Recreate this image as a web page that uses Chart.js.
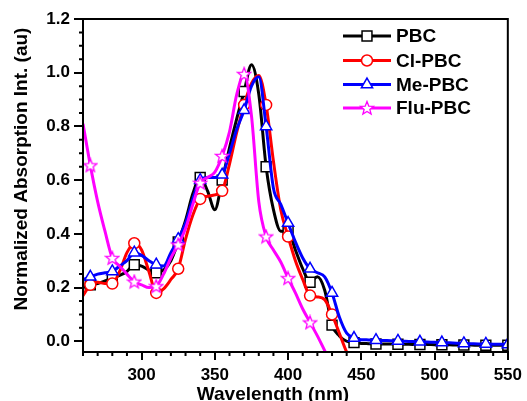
<!DOCTYPE html>
<html>
<head>
<meta charset="utf-8">
<script src="https://cdn.jsdelivr.net/npm/chart.js@4.4.0/dist/chart.umd.min.js"></script>
<style>
  html, body { margin: 0; padding: 0; background: #fff; }
</style>
</head>
<body>
<canvas id="absChart" width="527" height="401"></canvas>
<script>
// wavelengths (nm)
const wavelengths = [260, 265, 270, 275, 280, 285, 290, 295, 300, 305, 310, 315, 320, 325, 330, 335, 340, 345, 350, 355,
  360, 365, 370, 375, 380, 385, 390, 395, 400, 405, 410, 415, 420, 425, 430, 435, 440, 445,
  450, 455, 460, 465, 470, 475, 480, 485, 490, 495, 500, 505, 510, 515, 520, 525, 530, 535, 540, 545, 550];

// where the symbols sit
const markerWavelengths = [265, 280, 295, 310, 325, 340, 355, 370, 385, 400, 415, 430, 445, 460, 475, 490, 505, 520, 535, 550];

const pbc = [0.20, 0.21, 0.215, 0.225, 0.235, 0.245, 0.26, 0.285, 0.28, 0.265, 0.255, 0.265, 0.30, 0.37, 0.45, 0.55, 0.61, 0.56, 0.49, 0.60,
  0.72, 0.83, 0.93, 1.03, 0.92, 0.65, 0.49, 0.41, 0.41, 0.34, 0.27, 0.22, 0.24, 0.19, 0.06, 0.02, 0.0, -0.005,
  -0.008, -0.009, -0.01, -0.01, -0.01, -0.011, -0.011, -0.012, -0.012, -0.012, -0.013, -0.013, -0.013, -0.014, -0.014, -0.014, -0.015, -0.015, -0.015, -0.015, -0.015];

const clPbc = [0.17, 0.21, 0.22, 0.215, 0.215, 0.26, 0.33, 0.365, 0.34, 0.26, 0.18, 0.195, 0.23, 0.27, 0.38, 0.47, 0.53, 0.54, 0.545, 0.56,
  0.66, 0.78, 0.88, 0.96, 0.99, 0.88, 0.67, 0.49, 0.39, 0.30, 0.23, 0.17, 0.165, 0.155, 0.10, 0.03, -0.04, -0.09,
  null, null, null, null, null, null, null, null, null, null, null, null, null, null, null, null, null, null, null, null, null];

const mePbc = [0.23, 0.24, 0.25, 0.255, 0.26, 0.28, 0.30, 0.33, 0.32, 0.30, 0.285, 0.28, 0.33, 0.38, 0.44, 0.53, 0.60, 0.61, 0.61, 0.62,
  0.70, 0.79, 0.86, 0.95, 0.985, 0.80, 0.57, 0.51, 0.44, 0.37, 0.31, 0.27, 0.255, 0.24, 0.18, 0.09, 0.03, 0.012,
  0.006, 0.005, 0.004, 0.003, 0.002, 0.001, 0.0, -0.001, -0.002, -0.003, -0.004, -0.005, -0.006, -0.007, -0.008, -0.009, -0.01, -0.01, -0.011, -0.011, -0.012];

const fluPbc = [0.81, 0.655, 0.52, 0.41, 0.31, 0.28, 0.25, 0.222, 0.21, 0.20, 0.205, 0.25, 0.31, 0.36, 0.42, 0.51, 0.59, 0.61, 0.63, 0.69,
  0.78, 0.92, 0.995, 0.84, 0.52, 0.39, 0.34, 0.295, 0.235, 0.18, 0.12, 0.07, 0.02, -0.035, -0.09,
  null, null, null, null, null, null, null, null, null, null, null, null, null, null, null, null, null, null, null, null, null, null, null, null];

const xTicks = [300, 350, 400, 450, 500, 550];
const yTicks = [0.0, 0.2, 0.4, 0.6, 0.8, 1.0, 1.2];

const seriesNames = ['PBC', 'Cl-PBC', 'Me-PBC', 'Flu-PBC'];
const seriesColors = ['#000000', '#ff0000', '#0000ff', '#ff00ff'];

const FONT = '"Liberation Sans", Arial, sans-serif';

// open five-point star for Flu-PBC
function makeStar(color) {
  const c = document.createElement('canvas');
  c.width = 16; c.height = 16;
  const g = c.getContext('2d');
  g.beginPath();
  for (let i = 0; i < 10; i++) {
    const r = i % 2 === 0 ? 7 : 3;
    const a = -Math.PI / 2 + i * Math.PI / 5;
    g.lineTo(8 + r * Math.cos(a), 8.5 + r * Math.sin(a));
  }
  g.closePath();
  g.fillStyle = '#fff';
  g.fill();
  g.strokeStyle = color;
  g.lineWidth = 1.3;
  g.stroke();
  return c;
}

const styles = [
  { pointStyle: 'rect', radius: 7 },
  { pointStyle: 'circle', radius: 5.5 },
  { pointStyle: 'triangle', radius: 6.5 },
  { pointStyle: makeStar(seriesColors[3]), radius: 7 }
];

function makeDataset(idx, values) {
  return {
    label: seriesNames[idx],
    data: wavelengths.map((w, i) => ({ x: w, y: values[i] })),
    borderColor: seriesColors[idx],
    backgroundColor: '#ffffff',
    borderWidth: 3,
    cubicInterpolationMode: 'monotone',
    pointStyle: styles[idx].pointStyle,
    pointRadius: ctx => markerWavelengths.includes(wavelengths[ctx.dataIndex]) ? styles[idx].radius : 0,
    pointBorderWidth: 1.5,
    pointBorderColor: seriesColors[idx],
    pointBackgroundColor: '#ffffff',
    order: 4 - idx
  };
}

// frame, minor ticks, titles, legend
const decor = {
  id: 'decor',
  afterDraw(chart) {
    const ctx = chart.ctx;
    const a = chart.chartArea;
    const xs = chart.scales.x, ys = chart.scales.y;
    ctx.save();
    ctx.strokeStyle = '#000';
    ctx.lineWidth = 2;
    ctx.strokeRect(a.left, a.top, a.right - a.left, a.bottom - a.top);

    ctx.beginPath();
    for (let v = 260; v <= 550; v += 10) {
      if (xTicks.includes(v)) continue;
      const px = xs.getPixelForValue(v);
      ctx.moveTo(px, a.bottom);
      ctx.lineTo(px, a.bottom + 4);
    }
    for (let k = 0; k <= 24; k++) {
      if (k % 4 === 0) continue;
      const py = ys.getPixelForValue(k * 0.05);
      ctx.moveTo(a.left, py);
      ctx.lineTo(a.left - 4, py);
    }
    ctx.stroke();

    ctx.fillStyle = '#000';
    ctx.font = 'bold 19px ' + FONT;
    ctx.textAlign = 'center';
    ctx.textBaseline = 'alphabetic';
    ctx.fillText('Wavelength (nm)', 273, 400);
    ctx.save();
    ctx.translate(27, 169);
    ctx.rotate(-Math.PI / 2);
    ctx.fillText('Normalized Absorption Int. (au)', 0, 0);
    ctx.restore();

    // legend
    const rows = [36, 60.5, 84.5, 108];
    ctx.font = 'bold 19px ' + FONT;
    ctx.textAlign = 'left';
    ctx.textBaseline = 'middle';
    chart.data.datasets.forEach((ds, i) => {
      const y = rows[i];
      ctx.strokeStyle = ds.borderColor;
      ctx.lineWidth = 3;
      ctx.beginPath();
      ctx.moveTo(343, y);
      ctx.lineTo(391, y);
      ctx.stroke();
      ctx.lineWidth = 1.5;
      ctx.fillStyle = '#fff';
      Chart.helpers.drawPoint(ctx, { pointStyle: styles[i].pointStyle, radius: styles[i].radius, rotation: 0, borderWidth: 1.5 }, 367, y);
      ctx.fillStyle = '#000';
      ctx.fillText(ds.label, 396, y + 1);
    });
    ctx.restore();
  }
};

new Chart(document.getElementById('absChart'), {
  type: 'line',
  data: {
    datasets: [
      makeDataset(0, pbc),
      makeDataset(1, clPbc),
      makeDataset(2, mePbc),
      makeDataset(3, fluPbc)
    ]
  },
  options: {
    responsive: false,
    animation: false,
    devicePixelRatio: 1,
    events: [],
    layout: { padding: { top: 19, right: 15, left: 0, bottom: 0 } },
    plugins: { legend: { display: false }, tooltip: { enabled: false } },
    scales: {
      x: {
        type: 'linear',
        min: 260,
        max: 550,
        afterBuildTicks: s => { s.ticks = xTicks.map(v => ({ value: v })); },
        afterFit: s => { s.height = 49; },
        ticks: { color: '#000', font: { family: FONT, size: 17, weight: 'bold' }, padding: 5, maxRotation: 0, autoSkip: false },
        grid: { drawOnChartArea: false, tickLength: 8, color: '#000', lineWidth: 2 },
        border: { color: '#000', width: 2 }
      },
      y: {
        min: -0.04,
        max: 1.2,
        afterBuildTicks: s => { s.ticks = yTicks.map(v => ({ value: v })); },
        afterFit: s => { s.width = 83; },
        ticks: { color: '#000', font: { family: FONT, size: 17, weight: 'bold' }, padding: 4, callback: v => v.toFixed(1) },
        grid: { drawOnChartArea: false, tickLength: 9, color: '#000', lineWidth: 2 },
        border: { color: '#000', width: 2 }
      }
    }
  },
  plugins: [decor]
});
</script>
</body>
</html>
